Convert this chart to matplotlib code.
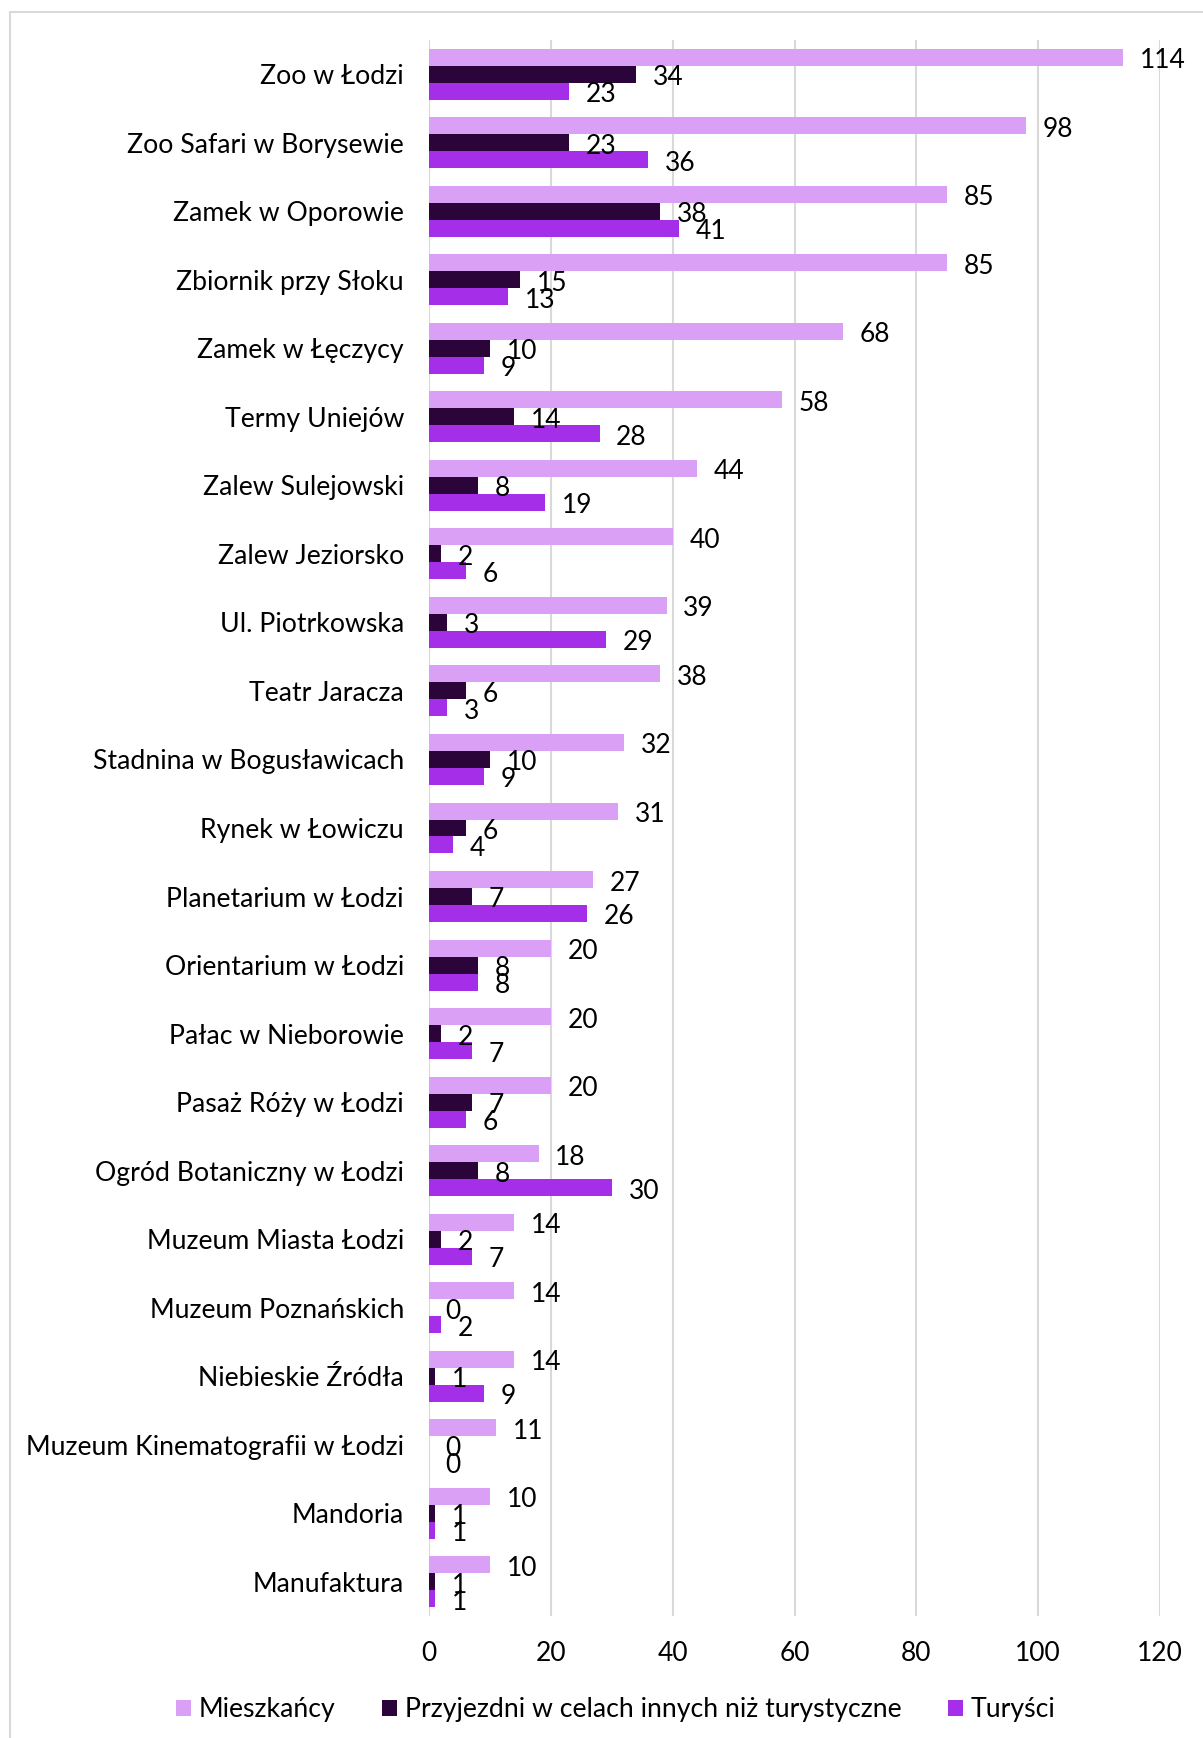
import matplotlib
matplotlib.use("Agg")
import matplotlib.pyplot as plt
import numpy as np
from matplotlib.patches import Rectangle

plt.rcParams['font.family'] = ['Lato', 'DejaVu Sans']

categories = ["Zoo w Łodzi", "Zoo Safari w Borysewie", "Zamek w Oporowie", "Zbiornik przy Słoku",
              "Zamek w Łęczycy", "Termy Uniejów", "Zalew Sulejowski", "Zalew Jeziorsko",
              "Ul. Piotrkowska", "Teatr Jaracza", "Stadnina w Bogusławicach", "Rynek w Łowiczu",
              "Planetarium w Łodzi", "Orientarium w Łodzi", "Pałac w Nieborowie", "Pasaż Róży w Łodzi",
              "Ogród Botaniczny w Łodzi", "Muzeum Miasta Łodzi", "Muzeum Poznańskich",
              "Niebieskie Źródła", "Muzeum Kinematografii w Łodzi", "Mandoria", "Manufaktura"]
mieszkancy = [114, 98, 85, 85, 68, 58, 44, 40, 39, 38, 32, 31, 27, 20, 20, 20, 18, 14, 14, 14, 11, 10, 10]
przyjezdni = [34, 23, 38, 15, 10, 14, 8, 2, 3, 6, 10, 6, 7, 8, 2, 7, 8, 2, 0, 1, 0, 1, 1]
turysci = [23, 36, 41, 13, 9, 28, 19, 6, 29, 3, 9, 4, 26, 8, 7, 6, 30, 7, 2, 9, 0, 1, 1]
series_names = ["Mieszkańcy", "Przyjezdni w celach innych niż turystyczne", "Turyści"]
colors = ["#D9A0F5", "#2B0539", "#A52EE8"]
xticks = [0, 20, 40, 60, 80, 100, 120]

fig = plt.figure(figsize=(12.03, 17.38), dpi=100)
ax = fig.add_axes([429/1203, 1-1616/1738, (1160-429)/1203, (1616-40)/1738])

y = np.arange(len(categories))
h = 0.248
offsets = [-h, 0, h]
handles = []
for vals, off, c, name in zip([mieszkancy, przyjezdni, turysci], offsets, colors, series_names):
    bars = ax.barh(y + off, vals, height=h, color=c, label=name, zorder=3)
    handles.append(bars)
    for yi, v in zip(y + off, vals):
        ax.annotate(str(v), xy=(v, yi), xytext=(12, -2.5), textcoords='offset points',
                    ha='left', va='center', fontsize=19, color='black', zorder=4)

ax.set_xlim(0, 120)
ax.set_ylim(len(categories) - 0.5, -0.5)
ax.set_xticks(xticks)
ax.set_xticklabels([str(t) for t in xticks])
ax.set_yticks(y)
ax.set_yticklabels(categories)
ax.tick_params(axis='x', length=0, pad=18, labelsize=19)
ax.tick_params(axis='y', length=0, pad=18, labelsize=19.2)
ax.grid(axis='x', color='#D9D9D9', linewidth=1.5, zorder=0)
for s in ax.spines.values():
    s.set_visible(False)

leg = fig.legend(handles=handles, labels=series_names, loc='center', bbox_to_anchor=(0.512, 1-1710/1738),
                 ncol=3, frameon=False, fontsize=19.2, handlelength=0.55, handleheight=0.55,
                 handletextpad=0.3, columnspacing=1.75)

fig.patches.append(Rectangle((10/1203, -0.1), 1.2, 1-12/1738 + 0.1, transform=fig.transFigure,
                             fill=False, edgecolor='#D9D9D9', linewidth=1.5))

fig.savefig("out.png", dpi=100)
